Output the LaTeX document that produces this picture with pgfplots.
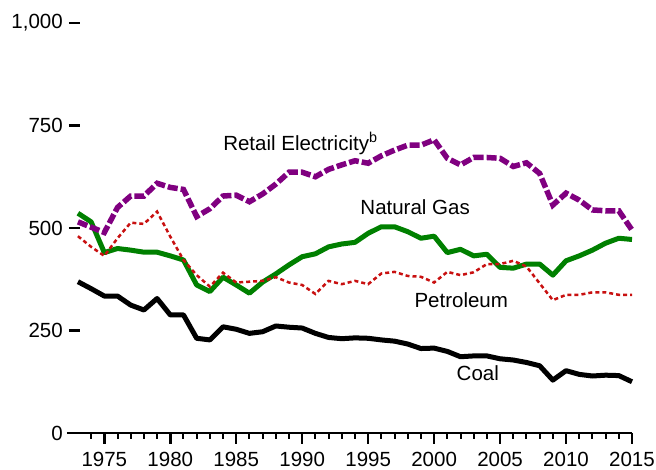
\documentclass[border=0pt]{standalone}
\usepackage{pgfplots}
\pgfplotsset{compat=1.18}
\usepackage{fontspec}
\setmainfont{Liberation Sans}
\definecolor{gasgreen}{RGB}{0,128,0}
\definecolor{elecpurple}{RGB}{128,0,128}
\definecolor{petred}{RGB}{200,16,16}
\begin{document}
\fontsize{20.5}{24}\selectfont
\begin{tikzpicture}
\path[use as bounding box] (-80pt,-37pt) rectangle (576pt,433pt);
\begin{axis}[
  at={(0pt,0pt)}, anchor=south west,
  scale only axis, width=552pt, height=410pt,
  xmin=1973.156, xmax=2015, ymin=0, ymax=1000,
  axis line style={draw=none},
  xtick pos=left, ytick pos=left,
  xtick={1975,1980,1985,1990,1995,2000,2005,2010,2015},
  minor xtick={1973,1974,1976,1977,1978,1979,1981,1982,1983,1984,1986,1987,1988,1989,1991,1992,1993,1994,1996,1997,1998,1999,2001,2002,2003,2004,2006,2007,2008,2009,2011,2012,2013,2014},
  ytick={0,250,500,750,1000},
  tick align=outside,
  major tick length=11pt, minor tick length=6pt,
  every tick/.style={draw=black, line width=2.5pt},
  every minor tick/.style={draw=black, line width=2pt},
  /pgf/number format/assume math mode=true,
  /pgf/number format/1000 sep={,},
  xticklabel style={/pgf/number format/1000 sep={}, yshift=-8pt},
  tick label style={inner sep=0pt, font=\fontsize{20.5}{24}\selectfont},
  yticklabel style={xshift=-6pt},
  clip=false,
]
\draw[black, line width=2.5pt] (rel axis cs:0,0) ++(-13pt,0pt) -- (rel axis cs:1,0);
\pgfplotsinvokeforeach{1975,1980,1985,1990,1995,2000,2005,2010,2015}{
  \draw[black, line width=2.5pt] (axis cs:#1,0) -- ++(0pt,-11pt);
}
\addplot[gasgreen, line width=5pt, line join=round] coordinates {
(1973,536)(1974,515)(1975,440)(1976,450)(1977,446)(1978,441)(1979,441)(1980,432)(1981,422)(1982,361)(1983,345)(1984,380)(1985,361)(1986,341)(1987,368)(1988,388)(1989,410)(1990,430)(1991,437)(1992,454)(1993,461)(1994,465)(1995,487)(1996,503)(1997,503)(1998,491)(1999,475)(2000,480)(2001,440)(2002,448)(2003,432)(2004,436)(2005,404)(2006,402)(2007,412)(2008,412)(2009,385)(2010,420)(2011,432)(2012,446)(2013,463)(2014,475)(2015,472)};
\addplot[black, line width=5pt, line join=round] coordinates {
(1973,369)(1974,352)(1975,334)(1976,334)(1977,312)(1978,300)(1979,328)(1980,288)(1981,288)(1982,231)(1983,227)(1984,259)(1985,253)(1986,243)(1987,247)(1988,261)(1989,258)(1990,256)(1991,243)(1992,233)(1993,230)(1994,232)(1995,231)(1996,227)(1997,224)(1998,217)(1999,206)(2000,207)(2001,199)(2002,186)(2003,188)(2004,188)(2005,181)(2006,178)(2007,172)(2008,164)(2009,129)(2010,152)(2011,143)(2012,139)(2013,141)(2014,140)(2015,125)};
\addplot[elecpurple, line width=5.5pt, dash pattern=on 10pt off 3pt] coordinates {
(1973,515)(1974,502)(1975,489)(1976,550)(1977,578)(1978,578)(1979,609)(1980,599)(1981,594)(1982,528)(1983,547)(1984,578)(1985,580)(1986,564)(1987,583)(1988,607)(1989,636)(1990,636)(1991,625)(1992,643)(1993,654)(1994,664)(1995,658)(1996,676)(1997,690)(1998,702)(1999,702)(2000,715)(2001,670)(2002,654)(2003,672)(2004,672)(2005,670)(2006,650)(2007,659)(2008,633)(2009,556)(2010,585)(2011,568)(2012,544)(2013,542)(2014,542)(2015,495)};
\addplot[petred, line width=2.5pt, dash pattern=on 4pt off 3pt] coordinates {
(1973,480)(1974,454)(1975,432)(1976,475)(1977,513)(1978,510)(1979,540)(1980,479)(1981,422)(1982,385)(1983,357)(1984,391)(1985,367)(1986,369)(1987,371)(1988,380)(1989,367)(1990,361)(1991,339)(1992,371)(1993,363)(1994,371)(1995,363)(1996,389)(1997,393)(1998,383)(1999,381)(2000,367)(2001,393)(2002,385)(2003,392)(2004,412)(2005,412)(2006,420)(2007,406)(2008,365)(2009,324)(2010,337)(2011,337)(2012,343)(2013,343)(2014,337)(2015,337)};
\node[anchor=base west, inner sep=0pt] at (axis cs:1984.0,690) {Retail Electricity\textsuperscript{b}};
\node[anchor=base west, inner sep=0pt] at (axis cs:1994.4,534) {Natural Gas};
\node[anchor=base west, inner sep=0pt] at (axis cs:1998.5,305) {Petroleum};
\node[anchor=base west, inner sep=0pt] at (axis cs:2001.7,127.6) {Coal};
\end{axis}
\end{tikzpicture}
\end{document}
